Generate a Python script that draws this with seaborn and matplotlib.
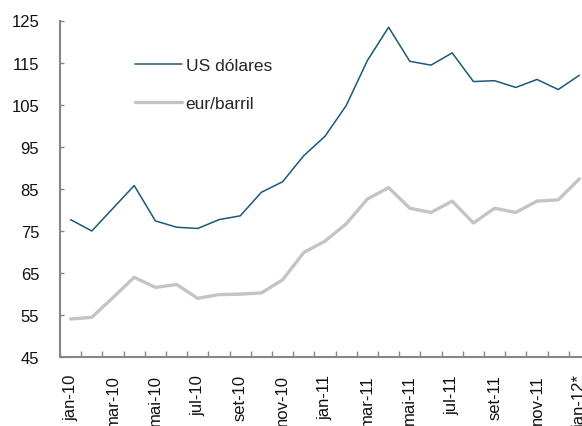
import matplotlib

matplotlib.use("Agg")
import matplotlib.pyplot as plt
import numpy as np
import pandas as pd
import seaborn as sns

# Monthly oil price, Jan 2010 - Jan 2012
months = [
    "jan-10", "fev-10", "mar-10", "abr-10", "mai-10", "jun-10", "jul-10",
    "ago-10", "set-10", "out-10", "nov-10", "dez-10", "jan-11", "fev-11",
    "mar-11", "abr-11", "mai-11", "jun-11", "jul-11", "ago-11", "set-11",
    "out-11", "nov-11", "dez-11", "jan-12*",
]
usd = [
    77.7, 75.0, 80.4, 85.8, 77.4, 75.9, 75.6, 77.7, 78.6, 84.2, 86.7, 92.9,
    97.5, 104.8, 115.5, 123.4, 115.3, 114.4, 117.3, 110.5, 110.7, 109.1,
    111.0, 108.6, 112.0,
]
eur = [
    54.1, 54.5, 59.2, 64.0, 61.6, 62.3, 59.0, 59.9, 60.0, 60.3, 63.4, 69.9,
    72.6, 76.7, 82.6, 85.3, 80.4, 79.4, 82.1, 76.9, 80.4, 79.4, 82.1, 82.4,
    87.4,
]
y_ticks = [45, 55, 65, 75, 85, 95, 105, 115, 125]

df = pd.DataFrame({"pos": np.arange(len(months)), "US dólares": usd, "eur/barril": eur})
long = df.melt(id_vars="pos", var_name="serie", value_name="preco")

sns.set_theme(style="white")
plt.rcParams["font.family"] = ["Liberation Sans", "DejaVu Sans"]

fig = plt.figure(figsize=(5.82, 4.27), dpi=100)
ax = fig.add_axes([60 / 582, 68.7 / 427, 530 / 582, 336.8 / 427])

sns.lineplot(
    data=long, x="pos", y="preco", hue="serie",
    palette={"US dólares": "#1b5879", "eur/barril": "#c4c4c4"},
    size="serie", sizes={"US dólares": 1.1, "eur/barril": 2.4},
    hue_order=["eur/barril", "US dólares"],
    ax=ax, legend=False,
)

ax.set_xlim(-0.5, len(months) - 0.5)
ax.set_ylim(45, 125)
ax.set_yticks(y_ticks)
ax.set_xticks(np.arange(0, len(months), 2))
ax.set_xticklabels(months[::2], rotation=90)
ax.set_xticks(np.arange(-0.5, len(months), 1), minor=True)
ax.set_xlabel("")
ax.set_ylabel("")

for side in ["top", "right"]:
    ax.spines[side].set_visible(False)
for side in ["left", "bottom"]:
    ax.spines[side].set_color("#868686")
    ax.spines[side].set_linewidth(1.5)

ax.tick_params(axis="y", which="major", direction="in", length=3, width=1,
               color="#868686", labelsize=12, pad=15, left=True)
ax.tick_params(axis="x", which="major", length=0, labelsize=12, pad=12)
ax.tick_params(axis="x", which="minor", direction="in", length=4, width=1,
               color="#868686", bottom=True)
for lab in ax.get_xticklabels() + ax.get_yticklabels():
    lab.set_color("#111111")

handles = [
    plt.Line2D([], [], color="#1b5879", lw=1.1),
    plt.Line2D([], [], color="#c4c4c4", lw=2.4),
]
ax.legend(
    handles, ["US dólares", "eur/barril"], loc="upper left",
    bbox_to_anchor=(0.142, 0.89), frameon=False, fontsize=12.5,
    handlelength=2.7, handletextpad=0.2, labelspacing=1.35,
    borderpad=0, borderaxespad=0,
)

fig.savefig("out.png", dpi=100)
